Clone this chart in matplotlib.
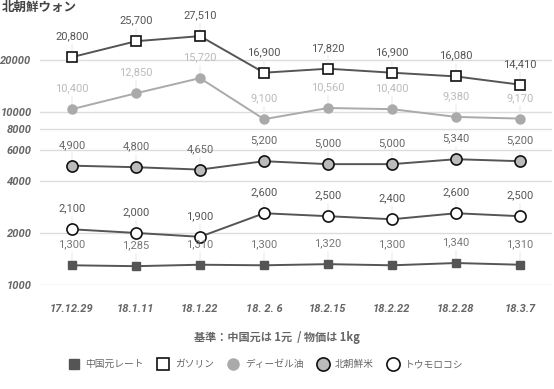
import matplotlib
matplotlib.use("Agg")
import matplotlib.pyplot as plt
from matplotlib.lines import Line2D
import numpy as np

plt.rcParams['font.family'] = ['Roboto', 'Noto Sans CJK JP', 'DejaVu Sans']

dates = ["17.12.29", "18.1.11", "18.1.22", "18. 2. 6", "18.2.15", "18.2.22", "18.2.28", "18.3.7"]
cny_rate = [1300, 1285, 1310, 1300, 1320, 1300, 1340, 1310]
gasoline = [20800, 25700, 27510, 16900, 17820, 16900, 16080, 14410]
diesel = [10400, 12850, 15720, 9100, 10560, 10400, 9380, 9170]
rice = [4900, 4800, 4650, 5200, 5000, 5000, 5340, 5200]
corn = [2100, 2000, 1900, 2600, 2500, 2400, 2600, 2500]
series_names = ["中国元レート", "ガソリン", "ディーゼル油", "北朝鮮米", "トウモロコシ"]
yticks = [1000, 2000, 4000, 6000, 8000, 10000, 20000]

W, H = 554, 389
fig = plt.figure(figsize=(W / 100, H / 100), dpi=100)
ax = fig.add_axes([40 / W, 1 - 285 / H, 512 / W, 277 / H])
ax.set_yscale('log')
ax.set_ylim(1000, 40000)
ax.set_xlim(-0.5, len(dates) - 0.5)

ax.set_yticks(yticks)
ax.set_yticklabels([str(v) for v in yticks], fontsize=8, fontweight='bold',
                   fontstyle='italic', color='#666666', family=['Roboto', 'DejaVu Sans'])
ax.yaxis.set_minor_locator(matplotlib.ticker.NullLocator())
ax.set_xticks(range(len(dates)))
ax.set_xticklabels(dates, fontsize=8, fontweight='bold', fontstyle='italic',
                   color='#666666', family=['Roboto', 'DejaVu Sans'])
ax.tick_params(axis='both', length=0)
ax.tick_params(axis='x', pad=14)
ax.tick_params(axis='y', pad=6)
for s in ax.spines.values():
    s.set_visible(False)
ax.grid(axis='y', color='#dddddd', lw=1)
ax.set_axisbelow(True)

x = np.arange(len(dates))
styles = [
    (cny_rate, dict(color='#555555', marker='s', ms=6, mfc='#555555', mec='#555555', mew=1), '#777777'),
    (gasoline, dict(color='#555555', marker='s', ms=7.5, mfc='white', mec='#111111', mew=1.2), '#555555'),
    (diesel, dict(color='#aaaaaa', marker='o', ms=6.5, mfc='#aaaaaa', mec='#aaaaaa', mew=1), '#bbbbbb'),
    (rice, dict(color='#555555', marker='o', ms=8, mfc='#bbbbbb', mec='#111111', mew=1.2), '#666666'),
    (corn, dict(color='#555555', marker='o', ms=8, mfc='white', mec='#111111', mew=1.2), '#555555'),
]
handles = []
for (vals, st, lc), name in zip(styles, series_names):
    ax.plot(x, vals, lw=1.4, zorder=3, **st)
    for xi, v in zip(x, vals):
        ax.annotate("", xy=(xi, v), xytext=(0, 9), textcoords='offset points',
                    arrowprops=dict(arrowstyle='-', color='#eeeeee', lw=1, shrinkA=0, shrinkB=0),
                    zorder=1)
        ax.annotate(f"{v:,}", (xi, v), xytext=(0, 15), textcoords='offset points',
                    ha='center', va='center', fontsize=8, color=lc, zorder=4)
    h = Line2D([], [], linestyle='none', marker=st['marker'], ms=st['ms'] + 1.5,
               mfc=st['mfc'], mec=st['mec'], mew=st['mew'])
    handles.append(h)

fig.text(2 / W, 1 - 0.5 / H, "北朝鮮ウォン", fontsize=9, fontweight='bold', color='#444444',
         ha='left', va='top', family=['Noto Sans CJK JP', 'DejaVu Sans'])
fig.text(0.5, 1 - 338 / H, "基準：中国元は 1元  / 物価は 1kg", fontsize=8, fontweight='bold',
         color='#666666', ha='center', va='center', family=['Noto Sans CJK JP', 'DejaVu Sans'])

fig.legend(handles, series_names, loc='center', bbox_to_anchor=(0.48, 1 - 364 / H), ncol=5,
           frameon=False, labelcolor='#666666', handlelength=1.0,
           handletextpad=0.7, columnspacing=1.5,
           prop={'family': ['Noto Sans CJK JP', 'DejaVu Sans'], 'size': 7})

fig.savefig("out.png", dpi=100)
